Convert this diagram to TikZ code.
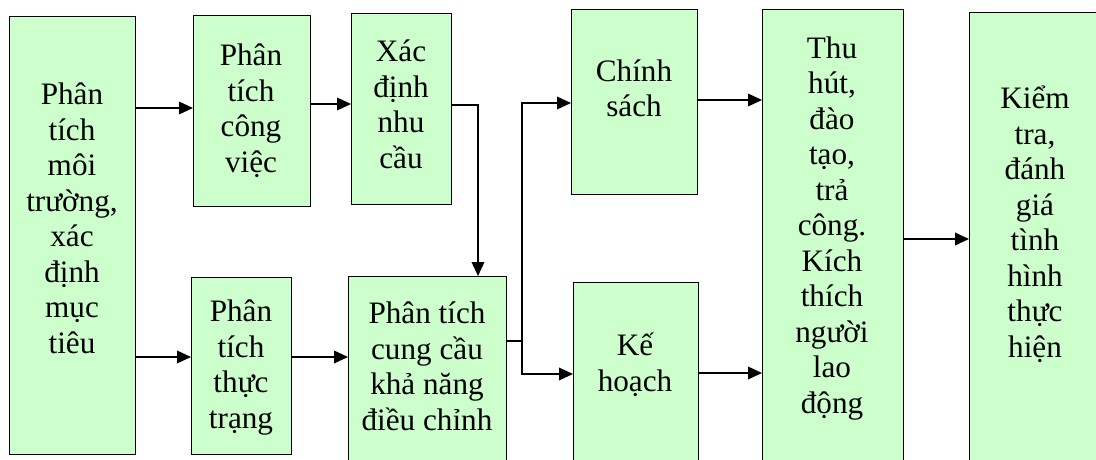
\documentclass[tikz,border=0pt]{standalone}
\usepackage{fontspec}
\setmainfont{Liberation Serif}
\usetikzlibrary{arrows.meta}
\definecolor{boxgreen}{HTML}{CCFFCC}
\begin{document}
\begin{tikzpicture}[x=0.75pt,y=-0.75pt,
  box/.style={draw=black,fill=boxgreen,line width=1.1pt,inner sep=0pt,anchor=north west},
  txt/.style={align=center,anchor=base,inner sep=0pt,font=\fontsize{23.4pt}{26.6pt}\selectfont},
  arr/.style={line width=1.1pt,-{Triangle[length=10.5pt,width=9.5pt]}},
  con/.style={line width=1.1pt}]
\useasboundingbox (0,0) rectangle (1096,460);
\clip (0,0) rectangle (1096,460);
% boxes
\node[box,minimum width=94.5pt,minimum height=328.5pt] (b1) at (9,16) {};
\node[box,minimum width=87.75pt,minimum height=143.25pt] (b2) at (193,15) {};
\node[box,minimum width=75pt,minimum height=143.25pt] (b3) at (351,13) {};
\node[box,minimum width=75pt,minimum height=132.75pt] (b4) at (191,277) {};
\node[box,minimum width=118.5pt,minimum height=153pt] (b5) at (348,276) {};
\node[box,minimum width=94.5pt,minimum height=138.75pt] (b6) at (571,9) {};
\node[box,minimum width=93.75pt,minimum height=148.5pt] (b7) at (573,282) {};
\node[box,minimum width=105.75pt,minimum height=353.25pt] (b8) at (762,9) {};
\node[box,minimum width=99pt,minimum height=351pt] (b9) at (969,12) {};
% texts (anchored at the baseline of the last line)
\node[txt] (t1) at (72,353) {Phân\\tích\\môi\\trường,\\xác\\định\\mục\\tiêu};
\node[txt] (t2) at (251,172) {Phân\\tích\\công\\việc};
\node[txt] (t3) at (401,168) {Xác\\định\\nhu\\cầu};
\node[txt] (t4) at (241,428) {Phân\\tích\\thực\\trạng};
\node[txt] (t5) at (427,430) {Phân tích\\cung cầu\\khả năng\\điều chỉnh};
\node[txt] (t6) at (634,117) {Chính\\sách};
\node[txt] (t7) at (635,391) {Kế\\hoạch};
\node[txt] (t8) at (832,413) {Thu\\hút,\\đào\\tạo,\\trả\\công.\\Kích\\thích\\người\\lao\\động};
\node[txt] (t9) at (1035,357) {Kiểm\\tra,\\đánh\\giá\\tình\\hình\\thực\\hiện};
% connectors
\coordinate (j1) at (478,105);
\coordinate (j2) at (522,341);
\draw[arr] (b1.east |- 0,108) -- (b2.west |- 0,108);
\draw[arr] (b2.east |- 0,104) -- (b3.west |- 0,104);
\draw[arr] (b1.east |- 0,357) -- (b4.west |- 0,357);
\draw[arr] (b4.east |- 0,357) -- (b5.west |- 0,357);
\draw[arr] (b3.east |- j1) -- (j1) -- (b5.north -| j1);
\draw[con] (b5.east |- j2) -- (j2);
\draw[arr] (j2) |- (b6.west |- 0,103);
\draw[arr] (j2) |- (b7.west |- 0,374);
\draw[arr] (b6.east |- 0,100) -- (b8.west |- 0,100);
\draw[arr] (b7.east |- 0,373) -- (b8.west |- 0,373);
\draw[arr] (b8.east |- 0,239) -- (b9.west |- 0,239);
\end{tikzpicture}
\end{document}
